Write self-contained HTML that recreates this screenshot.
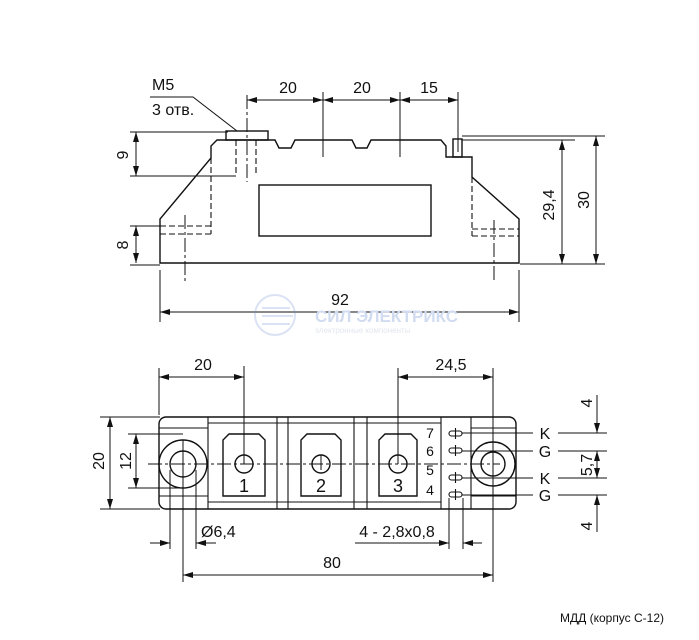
<!DOCTYPE html>
<html><head><meta charset="utf-8"><style>
html,body{margin:0;padding:0;background:#fff;}
svg{display:block;}
text{font-family:"Liberation Sans",sans-serif;fill:#111;}
</style></head><body>
<svg width="699" height="640" viewBox="0 0 699 640" xmlns="http://www.w3.org/2000/svg">
<defs>
<marker id="a" viewBox="0 0 10 6" refX="10" refY="3" markerWidth="10" markerHeight="6" orient="auto-start-reverse" markerUnits="userSpaceOnUse"><path d="M0,0 L10,3 L0,6 z" fill="#111"/></marker>
</defs>
<g stroke="#111" stroke-width="1.4" fill="none">
<path d="M160,263 L160,219 L211,158 L211,146 L217,140 L275,140 L279,148 L291,148 L295,140 L352,140 L356,148 L367,148 L371,140 L441,140 L446,146 L446,157 L472,157 L472,177 L519,219 L519,263 Z"/>
<rect x="226" y="131" width="42" height="9"/>
<rect x="453" y="139" width="9" height="18"/>
<rect x="259" y="185" width="172" height="51"/>
<g stroke-dasharray="6,3" stroke-width="1.1">
<path d="M211,158 L211,234 M160,226 L211,226 M160,234 L211,234"/>
<path d="M472,177 L472,236 M472,229 L519,229 M472,236 L519,236"/>
<path d="M236,140 L236,176 M256,140 L256,176"/>
</g>
<g stroke-dasharray="14,3,3,3" stroke-width="1">
<path d="M185,215 L185,283 M494,220 L494,280 M247,95 L247,182"/>
</g>
<g stroke-width="1">
<path d="M323,92 L323,157 M400,92 L400,157 M458,92 L458,152"/>
<path d="M247,100 L323,100" marker-start="url(#a)" marker-end="url(#a)"/>
<path d="M323,100 L400,100" marker-start="url(#a)" marker-end="url(#a)"/>
<path d="M400,100 L458,100" marker-start="url(#a)" marker-end="url(#a)"/>
<path d="M130,132 L228,132 M130,176 L236,176 M130,226 L160,226 M130,265 L160,265"/>
<path d="M136,132 L136,176" marker-start="url(#a)" marker-end="url(#a)"/>
<path d="M136,226 L136,263" marker-start="url(#a)" marker-end="url(#a)"/>
<path d="M462,136 L605,136 M462,140 L575,140 M520,264 L605,264"/>
<path d="M562,140 L562,264" marker-start="url(#a)" marker-end="url(#a)"/>
<path d="M596,136 L596,264" marker-start="url(#a)" marker-end="url(#a)"/>
<path d="M160,270 L160,322 M519,270 L519,322"/>
<path d="M160,312 L519,312" marker-start="url(#a)" marker-end="url(#a)"/>
<path d="M150,97 L193,97 L237,131"/>
</g>
<rect x="159" y="417" width="357" height="92" rx="7"/>
<path d="M208,417 L208,509 M277,417 L277,509 M288,417 L288,509 M354,417 L354,509 M367,417 L367,509 M441,417 L441,509 M471,417 L471,509" stroke-width="1.1"/>
<path d="M208,423 L441,423 M208,502 L441,502 M159,428 L208,428 M159,496 L208,496 M471,428 L516,428 M471,496 L516,496" stroke-width="1.1"/>
<path d="M223,496 L223,440 L229,434 L259,434 L265,440 L265,496 Z"/>
<path d="M301,496 L301,440 L307,434 L335,434 L341,440 L341,496 Z"/>
<path d="M379,496 L379,440 L385,434 L411,434 L417,440 L417,496 Z"/>
<circle cx="244" cy="464" r="9"/><circle cx="321" cy="464" r="9"/><circle cx="398" cy="464" r="9"/>
<circle cx="183" cy="464" r="24"/><circle cx="183" cy="464" r="13"/>
<circle cx="493" cy="464" r="22"/><circle cx="493" cy="464" r="12"/>
<g stroke-width="1.1">
<rect x="449" y="431" width="13" height="5" rx="2.5"/>
<rect x="449" y="448" width="13" height="5" rx="2.5"/>
<rect x="449" y="475" width="13" height="5" rx="2.5"/>
<rect x="449" y="492" width="13" height="5" rx="2.5"/>
<path d="M455.5,428 L455.5,439 M455.5,445 L455.5,456 M455.5,472 L455.5,483 M455.5,489 L455.5,500"/>
</g>
<g stroke-dasharray="14,3,3,3" stroke-width="1">
<path d="M148,464 L500,464"/>
</g>
<g stroke-width="1">
<path d="M183,440 L183,582 M244,366 L244,464 M321,455 L321,470 M398,368 L398,464 M493,368 L493,582"/>
<path d="M462,433 L533,433 M462,451 L533,451 M462,478 L533,478 M462,495 L533,495"/>
<path d="M558,433 L607,433 M558,451 L607,451 M558,478 L607,478 M558,495 L607,495"/>
<path d="M597,395 L597,433" marker-end="url(#a)"/>
<path d="M597,451 L597,478" marker-start="url(#a)" marker-end="url(#a)"/>
<path d="M597,495 L597,532" marker-start="url(#a)"/>
<path d="M159,368 L159,415"/>
<path d="M159,377 L244,377" marker-start="url(#a)" marker-end="url(#a)"/>
<path d="M398,377 L493,377" marker-start="url(#a)" marker-end="url(#a)"/>
<path d="M100,417 L160,417 M100,509 L160,509 M128,434 L183,434 M128,488 L183,488"/>
<path d="M110,417 L110,509" marker-start="url(#a)" marker-end="url(#a)"/>
<path d="M136,434 L136,488" marker-start="url(#a)" marker-end="url(#a)"/>
<path d="M170,470 L170,549 M196,470 L196,549"/>
<path d="M150,543 L170,543" marker-end="url(#a)"/>
<path d="M216,543 L196,543" marker-end="url(#a)"/>
<path d="M449,498 L449,549 M463,498 L463,549"/>
<path d="M355,543 L449,543" marker-end="url(#a)"/>
<path d="M482,543 L463,543" marker-end="url(#a)"/>
<path d="M183,575 L493,575" marker-start="url(#a)" marker-end="url(#a)"/>
</g>
</g>
<g opacity="0.25" fill="none" stroke="#6f8fd0" stroke-width="2">
<circle cx="275" cy="315" r="20"/>
<path d="M262,308 L290,308 M262,316 L293,316 M262,324 L290,324"/>
</g>
<text x="315" y="322" font-size="17" font-weight="bold" style="fill:#d2dcf0">СИЛ ЭЛЕКТРИКС</text>
<text x="315" y="333" font-size="8" style="fill:#e2e6ee">электронные компоненты</text>
<g font-size="16">
<text x="152" y="90">M5</text>
<text x="152" y="115">3 отв.</text>
<text x="288" y="93" text-anchor="middle">20</text>
<text x="362" y="93" text-anchor="middle">20</text>
<text x="429" y="93" text-anchor="middle">15</text>
<text transform="translate(128,155) rotate(-90)" text-anchor="middle">9</text>
<text transform="translate(128,245) rotate(-90)" text-anchor="middle">8</text>
<text transform="translate(554,205) rotate(-90)" text-anchor="middle">29,4</text>
<text transform="translate(589,200) rotate(-90)" text-anchor="middle">30</text>
<text x="340" y="305" text-anchor="middle">92</text>
<text x="203" y="370" text-anchor="middle">20</text>
<text x="451" y="370" text-anchor="middle">24,5</text>
<text transform="translate(104,461) rotate(-90)" text-anchor="middle">20</text>
<text transform="translate(131,461) rotate(-90)" text-anchor="middle">12</text>
<text x="201" y="537">Ø6,4</text>
<text x="397" y="537" text-anchor="middle">4 - 2,8x0,8</text>
<text x="332" y="568" text-anchor="middle">80</text>
<text transform="translate(592,403) rotate(-90)" text-anchor="middle">4</text>
<text transform="translate(592,465) rotate(-90)" text-anchor="middle">5,7</text>
<text transform="translate(592,526) rotate(-90)" text-anchor="middle">4</text>
<text x="545" y="439" text-anchor="middle">K</text>
<text x="545" y="457" text-anchor="middle">G</text>
<text x="545" y="484" text-anchor="middle">K</text>
<text x="545" y="501" text-anchor="middle">G</text>
</g>
<g font-size="18">
<text x="244" y="492" text-anchor="middle">1</text>
<text x="321" y="492" text-anchor="middle">2</text>
<text x="398" y="492" text-anchor="middle">3</text>
</g>
<g font-size="14">
<text x="430" y="438" text-anchor="middle">7</text>
<text x="430" y="456" text-anchor="middle">6</text>
<text x="430" y="475" text-anchor="middle">5</text>
<text x="430" y="495" text-anchor="middle">4</text>
</g>
<text x="560" y="622" font-size="12">МДД (корпус С-12)</text>
</svg>
</body></html>
